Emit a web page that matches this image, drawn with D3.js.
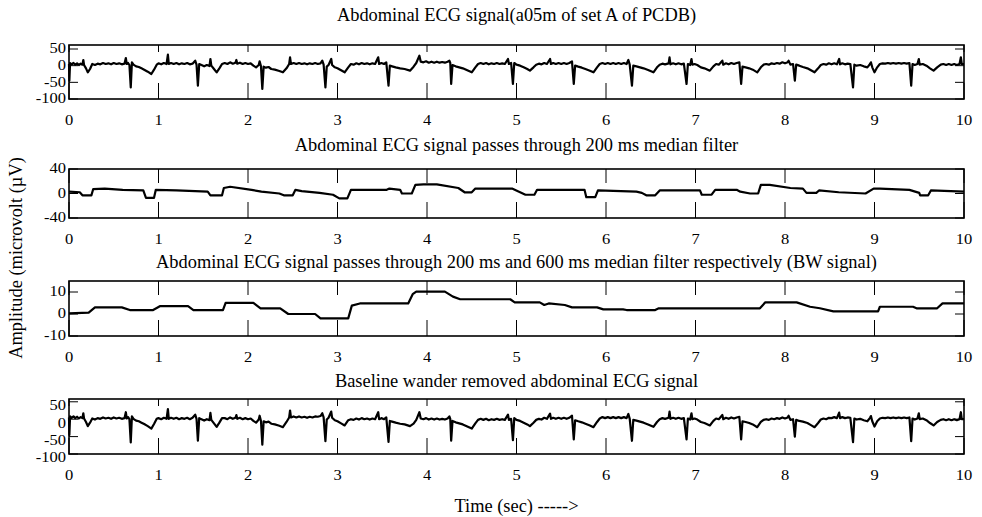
<!DOCTYPE html>
<html>
<head>
<meta charset="utf-8">
<script src="https://cdn.jsdelivr.net/npm/d3@7"></script>
<style>
  html, body { margin: 0; padding: 0; background: #fff; }
  svg { display: block; }
  text { font-family: "Liberation Serif", "Times New Roman", serif; fill: #000; }
</style>
</head>
<body>
<svg id="chart" width="982" height="517"></svg>
<script>
// ---- Data: [time (s), amplitude (µV)] ----
const xTickLabels = [0, 1, 2, 3, 4, 5, 6, 7, 8, 9, 10];

const titles = [
  "Abdominal ECG signal(a05m of set A of PCDB)",
  "Abdominal ECG signal passes through 200 ms median filter",
  "Abdominal ECG signal passes through 200 ms and 600 ms median filter respectively (BW signal)",
  "Baseline wander removed abdominal ECG signal"
];

const yTickLabels = [
  [-100, -50, 0, 50],
  [-40, 0, 40],
  [-10, 0, 10],
  [-100, -50, 0, 50]
];

const yDomains = [[-100, 62], [-40, 40], [-10, 15], [-100, 58]];

// raw abdominal recording a05m
const rawEcg = [[0,5],[0.004,-45],[0.012,8],[0.03,4],[0.05,8],[0.07,3],[0.09,7],[0.11,2],[0.13,6],[0.15,3],[0.16,17],[0.168,2],[0.19,-8],[0.21,-20],[0.235,-10],[0.26,5],[0.29,2],[0.32,6],[0.35,4],[0.38,8],[0.41,5],[0.44,7],[0.47,4],[0.5,8],[0.53,5],[0.56,7],[0.59,4],[0.62,6],[0.635,23],[0.645,5],[0.66,8],[0.675,2],[0.69,-65],[0.703,10],[0.72,3],[0.75,-2],[0.78,-4],[0.81,-8],[0.84,-12],[0.88,-18],[0.92,-25],[0.95,-12],[0.98,3],[1.0,7],[1.03,4],[1.06,8],[1.09,5],[1.105,33],[1.115,5],[1.14,8],[1.17,5],[1.2,8],[1.23,4],[1.26,7],[1.29,5],[1.32,8],[1.35,4],[1.38,6],[1.41,15],[1.425,3],[1.44,-60],[1.455,5],[1.48,2],[1.51,-2],[1.54,2],[1.57,-1],[1.58,20],[1.59,0],[1.62,-10],[1.65,-20],[1.68,-8],[1.71,5],[1.74,8],[1.77,5],[1.8,10],[1.83,6],[1.86,9],[1.87,17],[1.88,6],[1.91,9],[1.94,5],[1.97,8],[2.0,5],[2.03,7],[2.06,0],[2.09,-5],[2.12,2],[2.13,13],[2.145,-2],[2.16,-70],[2.175,-3],[2.2,-6],[2.23,-4],[2.26,-10],[2.3,-12],[2.35,-16],[2.39,-20],[2.43,-8],[2.46,5],[2.47,25],[2.48,5],[2.51,8],[2.54,5],[2.57,8],[2.6,5],[2.63,7],[2.66,4],[2.69,7],[2.72,5],[2.75,8],[2.78,5],[2.81,7],[2.83,15],[2.845,3],[2.865,-65],[2.88,-3],[2.9,2],[2.93,20],[2.94,2],[2.97,-5],[3.0,-8],[3.04,-14],[3.08,-20],[3.12,-5],[3.15,5],[3.18,3],[3.21,7],[3.24,4],[3.27,8],[3.3,5],[3.33,7],[3.36,4],[3.39,7],[3.42,5],[3.455,25],[3.465,5],[3.49,8],[3.52,5],[3.545,10],[3.57,-60],[3.585,0],[3.61,-2],[3.65,-5],[3.7,-8],[3.75,-10],[3.81,-15],[3.85,-3],[3.88,8],[3.915,30],[3.93,12],[3.96,10],[3.99,13],[4.02,9],[4.05,12],[4.08,9],[4.11,12],[4.14,9],[4.17,11],[4.2,9],[4.23,12],[4.25,15],[4.26,8],[4.27,-55],[4.285,2],[4.32,-2],[4.36,-5],[4.4,-8],[4.45,-14],[4.5,-20],[4.54,-5],[4.57,5],[4.6,8],[4.63,5],[4.66,8],[4.69,4],[4.72,7],[4.75,5],[4.78,8],[4.81,5],[4.84,7],[4.87,5],[4.905,20],[4.915,5],[4.94,8],[4.96,-55],[4.975,8],[5.0,3],[5.04,0],[5.08,-5],[5.12,-10],[5.15,-15],[5.19,-5],[5.22,3],[5.25,6],[5.28,4],[5.31,8],[5.34,5],[5.375,20],[5.385,5],[5.41,8],[5.44,5],[5.47,8],[5.5,5],[5.53,8],[5.56,5],[5.59,8],[5.62,13],[5.64,-55],[5.655,0],[5.69,-3],[5.73,-6],[5.77,-10],[5.82,-15],[5.86,-20],[5.9,-5],[5.93,5],[5.96,8],[5.99,5],[6.02,8],[6.05,5],[6.08,8],[6.11,5],[6.14,8],[6.17,5],[6.2,8],[6.23,5],[6.25,17],[6.265,3],[6.29,-60],[6.305,0],[6.34,-2],[6.38,-5],[6.42,-8],[6.47,-13],[6.53,-20],[6.57,-5],[6.6,3],[6.63,6],[6.66,4],[6.7,7],[6.71,25],[6.72,4],[6.75,7],[6.78,4],[6.81,7],[6.84,4],[6.87,6],[6.9,-55],[6.915,5],[6.94,2],[6.955,20],[6.965,3],[6.99,5],[7.02,2],[7.06,-5],[7.1,-8],[7.16,-15],[7.2,-2],[7.23,5],[7.26,3],[7.3,15],[7.31,3],[7.34,7],[7.37,4],[7.4,8],[7.43,5],[7.46,8],[7.49,10],[7.51,-55],[7.525,-3],[7.56,-5],[7.6,-8],[7.64,-12],[7.69,-20],[7.73,-5],[7.76,3],[7.79,5],[7.82,3],[7.85,7],[7.88,5],[7.91,8],[7.94,6],[7.97,10],[8.0,7],[8.03,10],[8.04,15],[8.06,3],[8.09,5],[8.11,-45],[8.125,3],[8.16,0],[8.2,-4],[8.25,-8],[8.29,-14],[8.33,-20],[8.37,-8],[8.4,2],[8.43,5],[8.46,3],[8.49,7],[8.52,4],[8.55,7],[8.58,4],[8.605,20],[8.615,4],[8.64,7],[8.67,4],[8.7,6],[8.73,5],[8.76,-65],[8.775,3],[8.8,0],[8.84,2],[8.88,-2],[8.92,-5],[8.95,5],[8.96,10],[8.975,-5],[9.0,-20],[9.03,-5],[9.06,5],[9.09,7],[9.12,6],[9.15,8],[9.18,6],[9.21,8],[9.24,6],[9.27,8],[9.3,6],[9.33,8],[9.36,6],[9.39,8],[9.41,-60],[9.425,5],[9.45,2],[9.48,5],[9.495,20],[9.505,3],[9.54,5],[9.58,0],[9.62,-8],[9.66,-15],[9.7,-5],[9.74,3],[9.77,5],[9.8,2],[9.83,5],[9.86,2],[9.89,5],[9.92,2],[9.95,5],[9.965,25],[9.975,5],[10,5]];

// output of the 200 ms median filter
const median200 = [[0,3],[0.12,2],[0.15,-3],[0.25,-3],[0.27,7],[0.4,8],[0.6,6],[0.83,5],[0.86,-7],[0.95,-7],[0.97,6],[1.2,5],[1.55,3],[1.58,-3],[1.71,-3],[1.73,9],[1.8,11],[2.04,6],[2.15,3],[2.35,0],[2.4,-3],[2.5,-3],[2.53,6],[2.6,4],[2.8,1],[2.95,-2],[3.02,-8],[3.11,-8],[3.15,6],[3.55,6],[3.58,8],[3.7,6],[3.72,0],[3.83,0],[3.87,14],[3.96,15],[4.11,15],[4.35,9],[4.42,2],[4.5,2],[4.54,8],[4.95,8],[5.1,-2],[5.2,-2],[5.23,6],[5.76,6],[5.78,-6],[5.88,-6],[5.91,5],[6.34,3],[6.4,1],[6.45,-3],[6.55,-3],[6.6,5],[7.05,5],[7.07,-2],[7.18,-2],[7.22,6],[7.46,6],[7.5,3],[7.61,0],[7.7,0],[7.73,14],[7.83,14],[8.06,9],[8.2,8],[8.24,1],[8.35,1],[8.38,5],[8.6,2],[8.9,0],[8.99,8],[9.06,8],[9.39,6],[9.5,1],[9.51,-3],[9.6,-3],[9.63,5],[10,3]];

// baseline wander (200 ms then 600 ms median)
const baselineWander = [[0,0.3],[0.22,0.6],[0.29,3],[0.59,3],[0.68,1.8],[0.94,1.8],[1.02,3.6],[1.33,3.6],[1.39,1.8],[1.72,1.8],[1.75,5.1],[2.06,5.1],[2.14,2.6],[2.36,2.6],[2.45,0],[2.75,0],[2.81,-2],[3.12,-2],[3.16,3.8],[3.25,4.8],[3.79,4.8],[3.84,9],[3.88,10.2],[4.2,10.2],[4.29,7.9],[4.37,6.7],[4.93,6.7],[4.98,5.3],[5.26,5.3],[5.31,4.1],[5.36,4.8],[5.54,4.1],[5.62,3],[5.9,3],[5.97,2.1],[6.19,2.1],[6.23,1.8],[6.55,1.8],[6.59,2.6],[7.72,2.6],[7.78,5.3],[8.13,5.3],[8.28,3.3],[8.39,2.6],[8.54,1.2],[9.04,1.2],[9.06,3.3],[9.43,3.3],[9.47,2.6],[9.7,2.6],[9.76,4.8],[10,4.8]];

// recording after baseline wander removal
const cleanedEcg = [[0,5],[0.004,-45],[0.012,8],[0.03,4],[0.05,8],[0.07,3],[0.09,7],[0.11,2],[0.13,6],[0.15,3],[0.16,17],[0.168,2],[0.19,-8],[0.21,-20],[0.235,-10],[0.26,2],[0.29,-1],[0.32,3],[0.35,1],[0.38,5],[0.41,2],[0.44,4],[0.47,1],[0.5,5],[0.53,2],[0.56,4],[0.59,1],[0.62,3],[0.635,20],[0.645,2],[0.66,6],[0.675,0],[0.69,-67],[0.703,8],[0.72,1],[0.75,-4],[0.78,-6],[0.81,-10],[0.84,-14],[0.88,-20],[0.92,-27],[0.95,-14],[0.98,1],[1.0,3],[1.03,0],[1.06,4],[1.09,1],[1.105,29],[1.115,1],[1.14,4],[1.17,1],[1.2,4],[1.23,0],[1.26,3],[1.29,1],[1.32,4],[1.35,0],[1.38,4],[1.41,13],[1.425,1],[1.44,-62],[1.455,3],[1.48,0],[1.51,-4],[1.54,0],[1.57,-3],[1.58,18],[1.59,-2],[1.62,-12],[1.65,-22],[1.68,-10],[1.71,3],[1.74,3],[1.77,0],[1.8,5],[1.83,1],[1.86,4],[1.87,12],[1.88,1],[1.91,4],[1.94,0],[1.97,3],[2.0,0],[2.03,2],[2.06,-5],[2.09,-10],[2.12,-1],[2.13,10],[2.145,-5],[2.16,-73],[2.175,-6],[2.2,-9],[2.23,-7],[2.26,-13],[2.3,-15],[2.35,-19],[2.39,-23],[2.43,-8],[2.46,5],[2.47,25],[2.48,5],[2.51,8],[2.54,5],[2.57,8],[2.6,5],[2.63,7],[2.66,4],[2.69,7],[2.72,5],[2.75,8],[2.78,7],[2.81,9],[2.83,17],[2.845,5],[2.865,-63],[2.88,-1],[2.9,4],[2.93,22],[2.94,4],[2.97,-3],[3.0,-6],[3.04,-12],[3.08,-18],[3.12,-3],[3.15,0],[3.18,-2],[3.21,2],[3.24,-1],[3.27,3],[3.3,0],[3.33,2],[3.36,-1],[3.39,2],[3.42,0],[3.455,20],[3.465,0],[3.49,3],[3.52,0],[3.545,5],[3.57,-65],[3.585,-5],[3.61,-7],[3.65,-10],[3.7,-13],[3.75,-15],[3.81,-20],[3.85,-13],[3.88,-2],[3.915,20],[3.93,2],[3.96,0],[3.99,3],[4.02,-1],[4.05,2],[4.08,-1],[4.11,2],[4.14,-1],[4.17,1],[4.2,-1],[4.23,2],[4.25,8],[4.26,1],[4.27,-62],[4.285,-5],[4.32,-9],[4.36,-12],[4.4,-15],[4.45,-21],[4.5,-27],[4.54,-12],[4.57,-2],[4.6,1],[4.63,-2],[4.66,1],[4.69,-3],[4.72,0],[4.75,-2],[4.78,1],[4.81,-2],[4.84,0],[4.87,-2],[4.905,13],[4.915,-2],[4.94,1],[4.96,-60],[4.975,3],[5.0,-2],[5.04,-5],[5.08,-10],[5.12,-15],[5.15,-20],[5.19,-10],[5.22,-2],[5.25,1],[5.28,-1],[5.31,4],[5.34,1],[5.375,16],[5.385,1],[5.41,4],[5.44,1],[5.47,4],[5.5,1],[5.53,4],[5.56,1],[5.59,4],[5.62,10],[5.64,-58],[5.655,-3],[5.69,-6],[5.73,-9],[5.77,-13],[5.82,-18],[5.86,-23],[5.9,-8],[5.93,2],[5.96,6],[5.99,3],[6.02,6],[6.05,3],[6.08,6],[6.11,3],[6.14,6],[6.17,3],[6.2,6],[6.23,3],[6.25,15],[6.265,1],[6.29,-62],[6.305,-2],[6.34,-4],[6.38,-7],[6.42,-10],[6.47,-15],[6.53,-22],[6.57,-8],[6.6,0],[6.63,3],[6.66,1],[6.7,4],[6.71,22],[6.72,1],[6.75,4],[6.78,1],[6.81,4],[6.84,1],[6.87,3],[6.9,-58],[6.915,2],[6.94,-1],[6.955,17],[6.965,0],[6.99,2],[7.02,-1],[7.06,-8],[7.1,-11],[7.16,-18],[7.2,-5],[7.23,2],[7.26,0],[7.3,12],[7.31,0],[7.34,4],[7.37,1],[7.4,5],[7.43,2],[7.46,5],[7.49,7],[7.51,-58],[7.525,-6],[7.56,-8],[7.6,-11],[7.64,-15],[7.69,-23],[7.73,-8],[7.76,-2],[7.79,0],[7.82,-2],[7.85,2],[7.88,0],[7.91,3],[7.94,1],[7.97,5],[8.0,2],[8.03,5],[8.04,10],[8.06,-2],[8.09,0],[8.11,-50],[8.125,-2],[8.16,-5],[8.2,-7],[8.25,-11],[8.29,-17],[8.33,-23],[8.37,-11],[8.4,-1],[8.43,2],[8.46,0],[8.49,4],[8.52,3],[8.55,6],[8.58,3],[8.605,19],[8.615,3],[8.64,6],[8.67,3],[8.7,5],[8.73,4],[8.76,-66],[8.775,2],[8.8,-1],[8.84,1],[8.88,-3],[8.92,-6],[8.95,4],[8.96,9],[8.975,-6],[9.0,-21],[9.03,-6],[9.06,2],[9.09,4],[9.12,3],[9.15,5],[9.18,3],[9.21,5],[9.24,3],[9.27,5],[9.3,3],[9.33,5],[9.36,3],[9.39,5],[9.41,-63],[9.425,2],[9.45,-1],[9.48,2],[9.495,17],[9.505,0],[9.54,2],[9.58,-3],[9.62,-11],[9.66,-18],[9.7,-8],[9.74,-2],[9.77,0],[9.8,-3],[9.83,0],[9.86,-3],[9.89,0],[9.92,-3],[9.95,0],[9.965,20],[9.975,0],[10,0]];

const seriesList = [rawEcg, median200, baselineWander, cleanedEcg];

// ---- Layout ----
const svg = d3.select("#chart");
const plotLeft = 69, plotRight = 964;
const panelBox = [[45, 99], [169, 218], [281, 336], [399, 454]];
const titleY = [15, 145, 262, 381];
const topTickLen = [7, 14, 14, 7];
const yLabelShift = [0, 0, 0, 4];
const bottomTickLen = 16;
const yTickLen = 9;
const tickFont = 16.5;
const tickSquash = 0.82;
const labelFont = 18.4;

const x = d3.scaleLinear().domain([0, 10]).range([plotLeft, plotRight]);

function tickText(parent, px, py, anchor, str) {
  parent.append("text")
    .attr("transform", `translate(${px},${py}) scale(1,${tickSquash})`)
    .attr("text-anchor", anchor)
    .attr("dominant-baseline", "central")
    .style("font-size", tickFont + "px")
    .text(str);
}

panelBox.forEach(([top, bottom], i) => {
  const y = d3.scaleLinear().domain(yDomains[i]).range([bottom, top]);
  const g = svg.append("g");

  // title
  g.append("text")
    .attr("x", (plotLeft + plotRight) / 2)
    .attr("y", titleY[i])
    .attr("text-anchor", "middle")
    .attr("dominant-baseline", "central")
    .style("font-size", labelFont + "px")
    .text(titles[i]);

  // signal trace
  g.append("path")
    .datum(seriesList[i])
    .attr("fill", "none")
    .attr("stroke", "#000")
    .attr("stroke-width", 2.2)
    .attr("stroke-linejoin", "round")
    .attr("d", d3.line().x(d => x(d[0])).y(d => y(d[1])));

  // x ticks (inside, on bottom and top edges)
  xTickLabels.forEach(t => {
    g.append("line").attr("x1", x(t)).attr("x2", x(t))
      .attr("y1", bottom).attr("y2", bottom - bottomTickLen)
      .attr("stroke", "#000").attr("stroke-width", 1);
    g.append("line").attr("x1", x(t)).attr("x2", x(t))
      .attr("y1", top).attr("y2", top + topTickLen[i])
      .attr("stroke", "#000").attr("stroke-width", 1);
    tickText(g, x(t), bottom + 22, "middle", t);
  });

  // y ticks (inside, on left and right edges)
  yTickLabels[i].forEach(v => {
    g.append("line").attr("x1", plotLeft).attr("x2", plotLeft + yTickLen)
      .attr("y1", y(v)).attr("y2", y(v)).attr("stroke", "#000").attr("stroke-width", 1);
    g.append("line").attr("x1", plotRight).attr("x2", plotRight - yTickLen)
      .attr("y1", y(v)).attr("y2", y(v)).attr("stroke", "#000").attr("stroke-width", 1);
    tickText(g, plotLeft - 3, y(v) + yLabelShift[i], "end", v);
  });

  // axes box
  g.append("rect")
    .attr("x", plotLeft).attr("y", top)
    .attr("width", plotRight - plotLeft).attr("height", bottom - top)
    .attr("fill", "none").attr("stroke", "#000").attr("stroke-width", 1.6);
});

// shared axis labels
svg.append("text")
  .attr("x", (plotLeft + plotRight) / 2).attr("y", 506)
  .attr("text-anchor", "middle").attr("dominant-baseline", "central")
  .style("font-size", labelFont + "px")
  .text("Time (sec) ----->");

svg.append("text")
  .attr("transform", "translate(16,258) rotate(-90)")
  .attr("text-anchor", "middle").attr("dominant-baseline", "central")
  .style("font-size", labelFont + "px")
  .text("Amplitude (microvolt (µV)");
</script>
</body>
</html>
